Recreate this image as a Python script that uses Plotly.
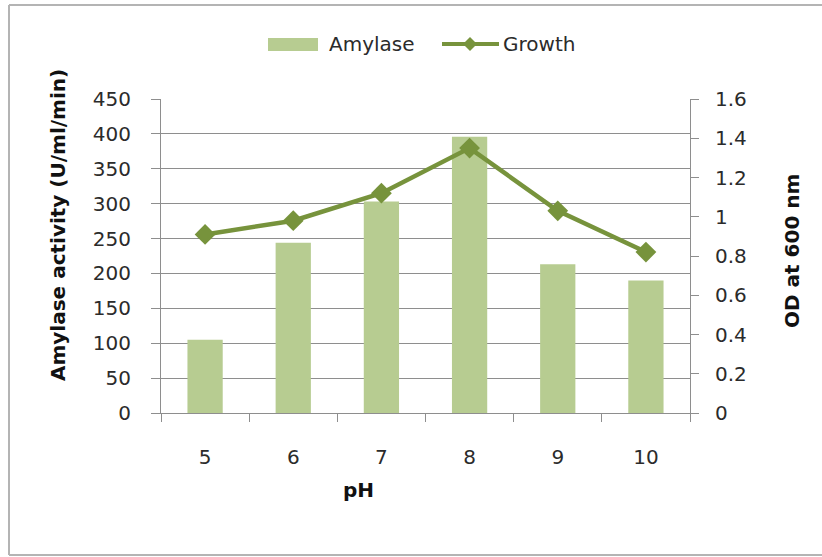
import plotly.graph_objects as go

# pH values tested
ph_levels = ["5", "6", "7", "8", "9", "10"]
# Amylase activity (U/ml/min) at each pH
amylase_activity = [105, 244, 303, 396, 213, 190]
# Growth as optical density at 600 nm
growth_od600 = [0.91, 0.98, 1.12, 1.35, 1.03, 0.82]

left_ticks = [0, 50, 100, 150, 200, 250, 300, 350, 400, 450]
right_ticks = [0, 0.2, 0.4, 0.6, 0.8, 1.0, 1.2, 1.4, 1.6]
right_tick_text = ["0", "0.2", "0.4", "0.6", "0.8", "1", "1.2", "1.4", "1.6"]

W, H = 822, 557
ML, MR, MT, MB = 161, 132, 99, 144
PW = W - ML - MR
PH = H - MT - MB

BAR_COLOR = "#b7cc91"
LINE_COLOR = "#77933c"
GRID = "#8e8e8e"
FRAME = "#b4b4b4"
FONT = "DejaVu Sans"


def px_x(p):
    return (p - ML) / PW


def px_y(p):
    return (H - MB - p) / PH


fig = go.Figure()

fig.add_trace(go.Bar(
    x=ph_levels, y=amylase_activity, name="Amylase",
    marker=dict(color=BAR_COLOR, line=dict(width=0)),
    yaxis="y", showlegend=False,
))

fig.add_trace(go.Scatter(
    x=ph_levels, y=growth_od600, name="Growth", mode="lines+markers",
    line=dict(color=LINE_COLOR, width=4.5),
    marker=dict(symbol="diamond", size=16, color=LINE_COLOR),
    yaxis="y2", showlegend=False,
))

shapes = []
annotations = []

# outer chart frame (left, top and bottom edges; right edge runs off the page)
for x0, y0, x1, y1 in [(9, 5, 9, 555), (9, 5, 822, 5), (9, 555, 822, 555)]:
    shapes.append(dict(type="line", xref="paper", yref="paper",
                       x0=px_x(x0), x1=px_x(x1), y0=px_y(y0), y1=px_y(y1),
                       line=dict(color=FRAME, width=2), layer="below"))

# legend: Amylase swatch
shapes.append(dict(type="rect", xref="paper", yref="paper",
                   x0=px_x(268), x1=px_x(318), y0=px_y(51), y1=px_y(38),
                   line=dict(width=0), fillcolor=BAR_COLOR))
annotations.append(dict(text="Amylase", xref="paper", yref="paper",
                        x=px_x(327), y=px_y(44), xanchor="left", yanchor="middle",
                        showarrow=False, font=dict(family=FONT, size=20, color="#2b2b2b")))

# legend: Growth line with diamond
shapes.append(dict(type="line", xref="paper", yref="paper",
                   x0=px_x(442), x1=px_x(499), y0=px_y(44), y1=px_y(44),
                   line=dict(color=LINE_COLOR, width=4)))
cx, cy, r = 470, 44, 7
shapes.append(dict(type="path", xref="paper", yref="paper",
                   path=(f"M {px_x(cx)},{px_y(cy - r)} L {px_x(cx + r)},{px_y(cy)} "
                         f"L {px_x(cx)},{px_y(cy + r)} L {px_x(cx - r)},{px_y(cy)} Z"),
                   line=dict(width=0), fillcolor=LINE_COLOR))
annotations.append(dict(text="Growth", xref="paper", yref="paper",
                        x=px_x(501), y=px_y(44), xanchor="left", yanchor="middle",
                        showarrow=False, font=dict(family=FONT, size=20, color="#2b2b2b")))

# axis titles
annotations.append(dict(text="<b>Amylase activity (U/ml/min)</b>", xref="paper", yref="paper",
                        x=px_x(58), y=px_y(225), textangle=-90,
                        xanchor="center", yanchor="middle", showarrow=False,
                        font=dict(family=FONT, size=20, color="#111111")))
annotations.append(dict(text="<b>OD at 600 nm</b>", xref="paper", yref="paper",
                        x=px_x(792), y=px_y(251), textangle=-90,
                        xanchor="center", yanchor="middle", showarrow=False,
                        font=dict(family=FONT, size=20, color="#111111")))
annotations.append(dict(text="<b>pH</b>", xref="paper", yref="paper",
                        x=px_x(358), y=px_y(490),
                        xanchor="center", yanchor="middle", showarrow=False,
                        font=dict(family=FONT, size=20, color="#111111")))

tick_font = dict(family=FONT, size=20, color="#2b2b2b")

fig.update_layout(
    width=W, height=H,
    margin=dict(l=ML, r=MR, t=MT, b=MB, pad=0),
    paper_bgcolor="white", plot_bgcolor="white",
    bargap=0.6,
    showlegend=False,
    font=dict(family=FONT, size=20, color="#2b2b2b"),
    xaxis=dict(
        type="category", tickson="boundaries",
        ticks="outside", ticklen=8, tickcolor=GRID, tickwidth=1,
        showline=True, linecolor=GRID, linewidth=1,
        showgrid=False, zeroline=False,
        ticklabelstandoff=26,
        tickfont=tick_font,
    ),
    yaxis=dict(
        range=[0, 450], tickvals=left_ticks,
        ticks="outside", ticklen=9, tickcolor=GRID, tickwidth=1,
        showline=True, linecolor=GRID, linewidth=1,
        showgrid=True, gridcolor=GRID, gridwidth=1, zeroline=False,
        ticklabelstandoff=16,
        tickfont=tick_font,
    ),
    yaxis2=dict(
        range=[0, 1.6], tickvals=right_ticks, ticktext=right_tick_text,
        overlaying="y", side="right",
        ticks="outside", ticklen=8, tickcolor=GRID, tickwidth=1,
        showline=True, linecolor=GRID, linewidth=1,
        showgrid=False, zeroline=False,
        ticklabelstandoff=12,
        tickfont=tick_font,
    ),
    shapes=shapes,
    annotations=annotations,
)

fig.write_html("out.html")
